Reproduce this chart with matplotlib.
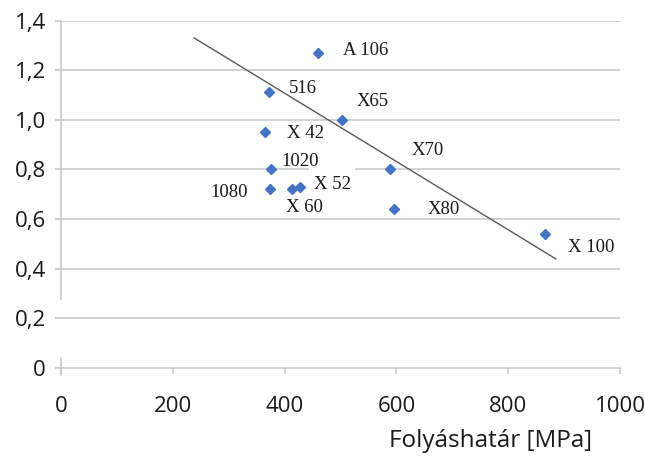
import matplotlib.pyplot as plt
from matplotlib.ticker import FuncFormatter

# values
steel = ["A 106", "516", "X 42", "1020", "1080", "X 52", "X 60", "X65", "X70", "X80", "X 100"]
yield_mpa = [460, 372, 365, 375, 374, 428, 413, 503, 589, 596, 866]
ratio = [1.27, 1.11, 0.95, 0.80, 0.72, 0.73, 0.72, 1.00, 0.80, 0.64, 0.54]
trend_x = [238, 885]
trend_y = [1.33, 0.44]
x_ticks = [0, 200, 400, 600, 800, 1000]
y_ticks = [0, 0.2, 0.4, 0.6, 0.8, 1.0, 1.2, 1.4]

# label placement, pixel offsets from the marker
LABEL_POS = {
    "A 106": (25, 2, "left"),
    "516": (20, 4, "left"),
    "X 42": (22, -1, "left"),
    "1020": (11, 8, "left"),
    "1080": (-22, -3, "right"),
    "X 52": (14, 2, "left"),
    "X 60": (-6, -18, "left"),
    "X65": (14, 18, "left"),
    "X70": (21, 19, "left"),
    "X80": (33, 0, "left"),
    "X 100": (23, -14, "left"),
}

GRID = "#c6c6c6"
BLUE = "#4472c4"
SANS = "Open Sans"
SERIF = "Liberation Serif"

fig = plt.figure(figsize=(6.45, 4.61), dpi=100)
ax = fig.add_axes([0.0946, 0.2017, 0.8666, 0.7538])
ax.set_xlim(0, 1000)
ax.set_ylim(0, 1.4)

# gridlines (the 0,8 line is broken in the original)
for y in y_ticks[1:]:
    if y == 0.8:
        ax.plot([0, 442], [y, y], color=GRID, lw=1.1, zorder=0)
        ax.plot([528, 1000], [y, y], color=GRID, lw=1.1, zorder=0)
    else:
        ax.axhline(y, color=GRID, lw=1.1, zorder=0)

for s in ["top", "right", "left"]:
    ax.spines[s].set_visible(False)
ax.spines["bottom"].set_color(GRID)
ax.spines["bottom"].set_linewidth(1.1)

# y axis line, with its gap
yax = ax.get_yaxis_transform()
ax.plot([0, 0], [0.28, 1.4], color=GRID, lw=1.1, transform=yax, clip_on=False)
ax.plot([0, 0], [-0.03, 0.04], color=GRID, lw=1.1, transform=yax, clip_on=False)

ax.plot(trend_x, trend_y, color="#5a5a5a", lw=1.0, zorder=2)
ax.plot(yield_mpa, ratio, "D", color=BLUE, markersize=5, zorder=3)

for name, x, y in zip(steel, yield_mpa, ratio):
    dx, dy, ha = LABEL_POS[name]
    ax.annotate(name, (x, y), xytext=(dx, dy), textcoords="offset pixels",
                ha=ha, va="center", fontsize=13.5, family=SERIF, color="#1a1a1a")

ax.set_xticks(x_ticks)
ax.set_yticks(y_ticks)
ax.yaxis.set_major_formatter(
    FuncFormatter(lambda v, p: "0" if v == 0 else f"{v:.1f}".replace(".", ",")))
ax.tick_params(axis="x", length=4, width=1.1, color=GRID, pad=16,
               labelsize=16, labelcolor="#1a1a1a")
ax.tick_params(axis="y", length=4, width=1.1, color=GRID, pad=7,
               labelsize=16, labelcolor="#1a1a1a")
for lab in ax.get_xticklabels() + ax.get_yticklabels():
    lab.set_family(SANS)

fig.text(0.76, 0.043, "Folyáshatár [MPa]", ha="center", va="center",
         fontsize=17.5, family=SANS, color="#1a1a1a")

fig.savefig("out.png", dpi=100)
